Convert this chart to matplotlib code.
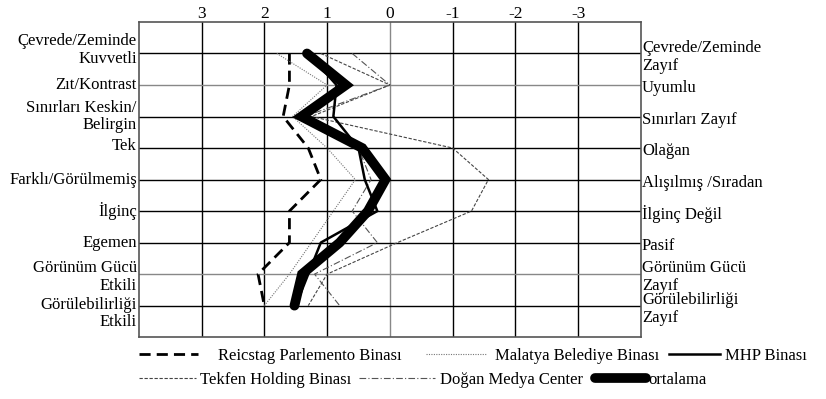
import matplotlib.pyplot as plt
from matplotlib.transforms import blended_transform_factory, offset_copy

plt.rcParams['font.family'] = ['Liberation Serif', 'DejaVu Serif']

rows = [1, 2, 3, 4, 5, 6, 7, 8, 9]
left_labels = ["Çevrede/Zeminde\nKuvvetli", "Zıt/Kontrast", "Sınırları Keskin/\nBelirgin", "Tek",
               "Farklı/Görülmemiş", "İlginç", "Egemen", "Görünüm Gücü\nEtkili",
               "Görülebilirliği\nEtkili"]
right_labels = ["Çevrede/Zeminde\nZayıf", "Uyumlu", "Sınırları Zayıf", "Olağan",
                "Alışılmış /Sıradan", "İlginç Değil", "Pasif", "Görünüm Gücü\nZayıf",
                "Görülebilirliği\nZayıf"]
scale_ticks = [3, 2, 1, 0, -1, -2, -3]

reichstag = [1.6, 1.6, 1.7, 1.3, 1.1, 1.6, 1.6, 2.1, 2.0]
malatya = [1.8, 1.0, 1.55, 1.0, 0.55, 0.9, 1.25, 1.6, 2.0]
mhp = [1.3, 0.85, 0.9, 0.5, 0.4, 0.2, 1.1, 1.3, 1.5]
tekfen = [1.1, 0.0, 1.25, -1.0, -1.57, -1.3, -0.12, 1.0, 1.3]
dogan = [0.6, 0.0, 1.35, 0.5, 0.3, 0.6, 0.2, 1.2, 0.8]
ortalama = [1.32, 0.7, 1.41, 0.44, 0.07, 0.35, 0.8, 1.4, 1.52]

fig = plt.figure(figsize=(8.26, 3.99), dpi=100)
ax = fig.add_axes([0.168, 0.155, 0.608, 0.79])

# grid
for v in scale_ticks:
    ax.axvline(v, color="#888888" if v == 0 else "black", lw=1.0, zorder=1)
for r in rows:
    ax.axhline(r, color="#888888" if r in (2, 8) else "black", lw=1.0, zorder=1)

l_r, = ax.plot(reichstag, rows, color="black", lw=2.0, ls=(0, (4, 2.2)), zorder=3)
l_t, = ax.plot(tekfen, rows, color="#444444", lw=0.8, ls=(0, (3, 1.5)), zorder=3)
l_m, = ax.plot(malatya, rows, color="#777777", lw=0.8, ls=(0, (1, 1.2)), zorder=3)
l_d, = ax.plot(dogan, rows, color="#555555", lw=0.8, ls=(0, (6, 2, 1, 2)), zorder=3)
l_h, = ax.plot(mhp, rows, color="black", lw=1.8, zorder=4)
l_o, = ax.plot(ortalama, rows, color="black", lw=7, solid_capstyle="round",
               solid_joinstyle="miter", zorder=5)

ax.set_xlim(4, -4)
ax.set_ylim(10, 0)
ax.xaxis.tick_top()
ax.set_xticks(scale_ticks)
ax.set_xticklabels([str(t) for t in scale_ticks], fontsize=12.5)
ax.tick_params(axis="x", length=0, pad=0)
ax.set_yticks([])
for s in ax.spines.values():
    s.set_color("#555555")
    s.set_linewidth(1.2)

tl = offset_copy(blended_transform_factory(ax.transAxes, ax.transData), fig=fig, x=-2, y=0, units="dots")
tr = offset_copy(blended_transform_factory(ax.transAxes, ax.transData), fig=fig, x=1, y=0, units="dots")
left_shift = [-0.1, 0, 0, -0.05, 0, 0, 0, 0.1, 0.25]
for r, lab, sh in zip(rows, left_labels, left_shift):
    ax.text(0, r + sh, lab, transform=tl, ha="right", va="center", multialignment="right",
            fontsize=12, linespacing=1.15)
for r, lab in zip(rows, right_labels):
    ax.text(1, r + 0.1, lab, transform=tr, ha="left", va="center", multialignment="left",
            fontsize=12, linespacing=1.15)

# legend: one small legend per entry, placed like the original (x px, handle px, gap px, y px)
em = 12 * 100 / 72
entries = [
    (l_r, "Reicstag Parlemento Binası", 139, 59, 20, 356),
    (l_m, "Malatya Belediye Binası", 426, 61, 8, 356),
    (l_h, "MHP Binası", 669, 51, 5, 356),
    (l_t, "Tekfen Holding Binası", 139, 57, 4, 380),
    (l_d, "Doğan Medya Center", 359, 76, 5, 380),
    (l_o, "ortalama", 595, 51, 2, 380),
]
for h, lab, x0, hl, gap, y0 in entries:
    leg = fig.legend([h], [lab], loc="center left", bbox_to_anchor=(x0 / 826, 1 - y0 / 399),
                     frameon=False, fontsize=12, handlelength=hl / em, handletextpad=gap / em,
                     borderaxespad=0, borderpad=0)

fig.savefig("out.png", dpi=100)
